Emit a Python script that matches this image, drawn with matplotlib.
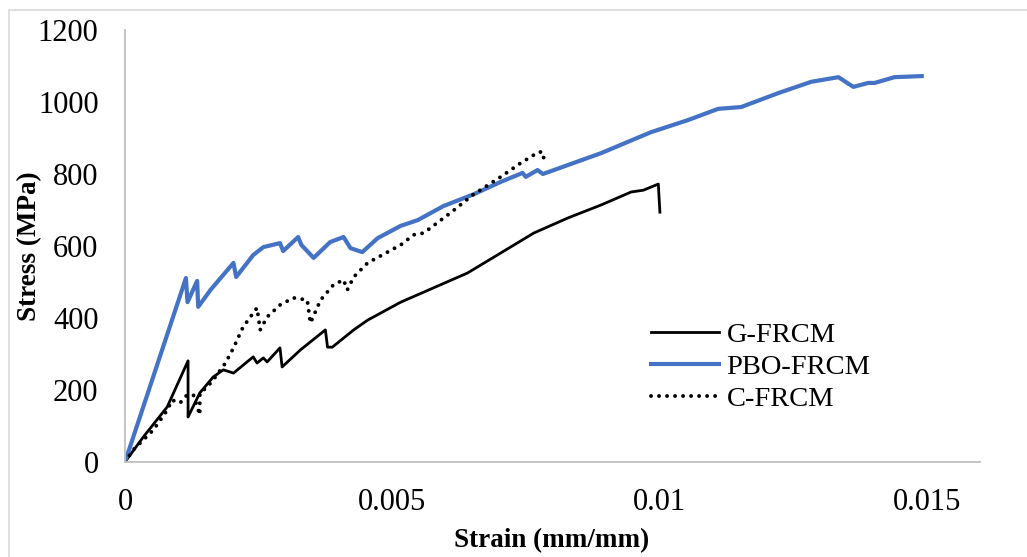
import matplotlib
matplotlib.use("Agg")
import matplotlib.pyplot as plt
from matplotlib.patches import Rectangle

# stress-strain data
g_strain = [0, 0.00034, 0.00079, 0.00118, 0.00118, 0.0014, 0.00165, 0.00184, 0.00203, 0.0024,
            0.00247, 0.00259, 0.00266, 0.0029, 0.00294, 0.00328, 0.00375, 0.00379, 0.00388, 0.00428,
            0.00454, 0.00516, 0.00641, 0.00765, 0.00829, 0.00891, 0.00947, 0.0097, 0.00998, 0.01001]
g_stress = [0, 69, 153, 281, 125, 192, 236, 256, 247, 292,
            275, 289, 278, 317, 264, 311, 367, 319, 319, 367,
            394, 444, 525, 636, 678, 714, 750, 755, 772, 694]

pbo_strain = [0, 0.00114, 0.00117, 0.00135, 0.00137, 0.0016, 0.00203, 0.00208, 0.0024, 0.00259,
              0.0029, 0.00296, 0.00324, 0.0033, 0.00353, 0.00384, 0.00409, 0.00422, 0.00444, 0.00473,
              0.00516, 0.00548, 0.00596, 0.00653, 0.00703, 0.00744, 0.0075, 0.00772, 0.00782, 0.00829,
              0.00891, 0.00984, 0.01054, 0.0111, 0.01153, 0.01223, 0.01284, 0.01335, 0.01363, 0.01391,
              0.01403, 0.0144, 0.01491]
pbo_stress = [0, 511, 444, 503, 431, 478, 553, 514, 575, 597,
              608, 586, 625, 603, 567, 611, 625, 594, 583, 622,
              656, 672, 711, 744, 778, 803, 792, 811, 800, 825,
              858, 916, 950, 981, 986, 1025, 1056, 1069, 1042, 1053,
              1053, 1069, 1072]

c_strain = [0, 0.00015, 0.00053, 0.00079, 0.00088, 0.00103, 0.00116, 0.00128, 0.0014, 0.0014,
            0.00154, 0.00169, 0.00188, 0.00203, 0.00221, 0.00244, 0.00247, 0.00253, 0.00266, 0.0029,
            0.00315, 0.00341, 0.00347, 0.00366, 0.0039, 0.00409, 0.00416, 0.00428, 0.00454, 0.00516,
            0.0054, 0.00559, 0.00609, 0.00651, 0.00703, 0.00741, 0.00774, 0.00782, 0.00784]
c_stress = [0, 33, 89, 144, 172, 164, 186, 186, 131, 192,
            208, 236, 275, 317, 375, 422, 428, 367, 403, 436,
            456, 450, 386, 450, 492, 506, 478, 514, 553, 603,
            631, 636, 692, 742, 792, 831, 861, 861, 839]

x_ticks = [0, 0.005, 0.01, 0.015]
x_ticklabels = ["0", "0.005", "0.01", "0.015"]
y_ticks = [0, 200, 400, 600, 800, 1000, 1200]

plt.rcParams['font.family'] = ['Liberation Serif', 'DejaVu Serif']

W, H = 1027, 557
fig = plt.figure(figsize=(W / 100, H / 100), dpi=100)
ax = fig.add_axes([125 / W, 1 - 462 / H, 855 / W, 432 / H])

ax.plot(g_strain, g_stress, color='black', lw=2.0, label='G-FRCM')
ax.plot(pbo_strain, pbo_stress, color='#4472c4', lw=3.0, label='PBO-FRCM')
ax.plot(c_strain, c_stress, color='black', lw=2.8, linestyle=(0, (0.01, 2.05)),
        dash_capstyle='round', label='C-FRCM')

ax.set_xlim(0, 0.016)
ax.set_ylim(0, 1200)
ax.set_xticks(x_ticks)
ax.set_xticklabels(x_ticklabels)
ax.set_yticks(y_ticks)
ax.tick_params(length=0, labelsize=22, pad=19)
for s in ['top', 'right']:
    ax.spines[s].set_visible(False)
for s in ['left', 'bottom']:
    ax.spines[s].set_color('#bfbfbf')
    ax.spines[s].set_linewidth(1.3)

fig.text(552 / W, 1 - 541 / H, 'Strain (mm/mm)', ha='center', va='center',
         fontsize=19.5, fontweight='bold')
fig.text(30 / W, 1 - 246 / H, 'Stress (MPa)', ha='center', va='center',
         rotation=90, fontsize=19.5, fontweight='bold')

ax.legend(loc='center left', bbox_to_anchor=(651 / W, 1 - 367 / H),
          bbox_transform=fig.transFigure, frameon=False, fontsize=20.5,
          handlelength=2.4, handletextpad=0.25, labelspacing=0.2,
          borderpad=0, borderaxespad=0)

fig.patches.append(Rectangle((9 / W, -0.1), 1.2, 1 - 10 / H + 0.1,
                             transform=fig.transFigure, fill=False,
                             ec='#d9d9d9', lw=1.2, clip_on=False))

fig.savefig('out.png', dpi=100)
